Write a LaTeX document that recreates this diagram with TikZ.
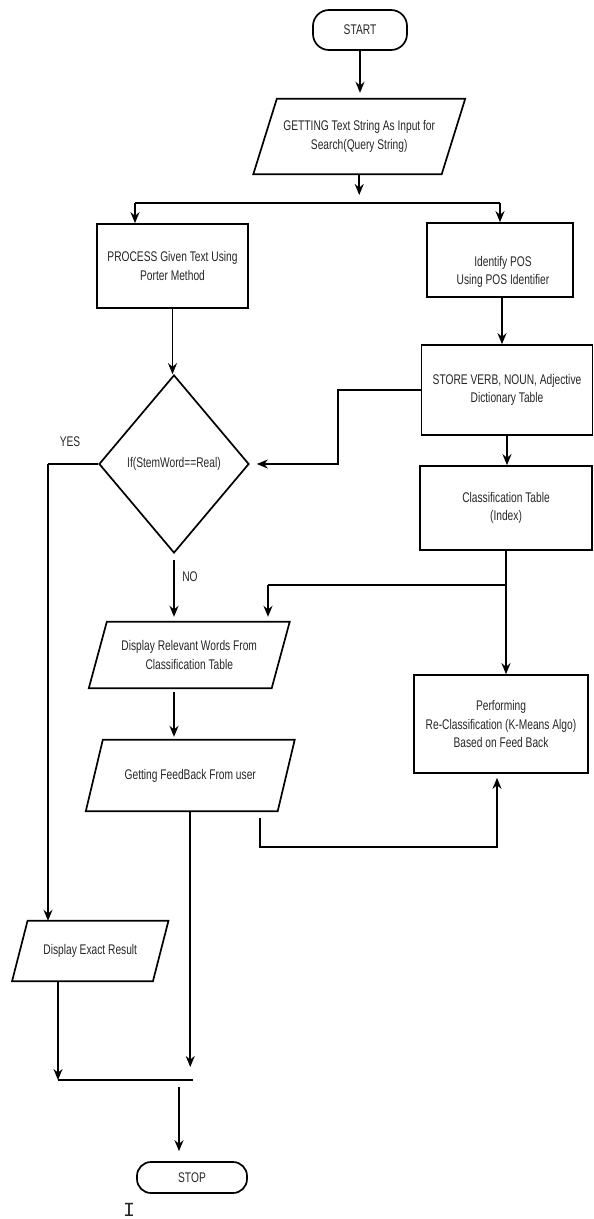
\documentclass[tikz,border=0pt]{standalone}
\usepackage{fontspec}
\setmainfont[FakeStretch=0.73]{Liberation Sans}
\newfontfamily\cursorfont{Liberation Mono}
\usetikzlibrary{arrows.meta,shapes.geometric,calc}
\newcommand\drawpara[2]{\draw[ln] ([xshift=#2pt]#1.north west) -- ([xshift=#2pt]#1.north east) -- ([xshift=-#2pt]#1.south east) -- ([xshift=-#2pt]#1.south west) -- cycle;}
\begin{document}
\begin{tikzpicture}[x=1pt,y=-1pt,
  every node/.style={font=\fontsize{14}{18.5}\selectfont, align=center, inner sep=0pt, text=black!85},
  ln/.style={line width=1.7pt},
  arr/.style={line width=1.7pt, -{Stealth[length=11pt,width=9pt]}},
  proc/.style={draw=black, line width=1.7pt},
  io/.style={},
  term/.style={draw=black, line width=1.7pt, rounded corners=16pt},
  dec/.style={draw=black, shape=diamond, line width=1.7pt, minimum width=150, minimum height=178}]
\useasboundingbox (0,0) rectangle (594,1219);

\node[term, minimum width=94, minimum height=40] (start) at (360,30) {START};
\node[io, minimum width=188, minimum height=75] (get) at (359.25,136.5) {GETTING Text String As Input for\\Search(Query String)};
\drawpara{get}{11.75}
\node[proc, minimum width=151, minimum height=84] (prc) at (172.5,266) {PROCESS Given Text Using\\Porter Method};
\node[proc, minimum width=146, minimum height=74] (pos) at (500,260) {};
\node (posT) at (503,272) {Identify POS\\Using POS Identifier};
\node[proc, minimum width=171, minimum height=90] (store) at (507,390) {STORE VERB, NOUN, Adjective\\Dictionary Table};
\node[proc, minimum width=172, minimum height=84] (cls) at (506,508) {Classification Table\\(Index)};
\node[dec] (dec) at (174,464) {If(StemWord==Real)};
\node[io, minimum width=182.5, minimum height=66] (rel) at (189.25,655) {Display Relevant Words From\\Classification Table};
\drawpara{rel}{9}
\node[proc, minimum width=174, minimum height=98] (perf) at (501,724) {Performing\\Re-Classification (K-Means Algo)\\Based on Feed Back};
\node[io, minimum width=191.5, minimum height=71] (fb) at (190.25,775.5) {Getting FeedBack From user};
\drawpara{fb}{8.5}
\node[io, minimum width=140.5, minimum height=60] (exact) at (90.25,951) {Display Exact Result};
\drawpara{exact}{7.75}
\node[term, minimum width=110, minimum height=31, rounded corners=14pt] (stop) at (192,1177.5) {STOP};
\node[font=\cursorfont\fontsize{20}{20}\selectfont] (cur) at (129,1210) {I};
\node (yes) at (70,442) {YES};
\node (no) at (190,577) {NO};

% connectors
\draw[arr, shorten >=6pt] (start.south) -- (start.south |- get.north);
\coordinate (sL) at (135,203);
\coordinate (sR) at (pos.north |- sL);
\draw[arr, shorten >=8pt] (get.south) -- (get.south |- sL);
\draw[ln] (sL) -- (sR);
\draw[arr] (sL) -- (sL |- prc.north);
\draw[arr] (sR) -- (pos.north);
\draw[arr] ([xshift=2pt]pos.south) -- ([xshift=2pt]pos.south |- store.north);
\coordinate (b1) at (338,390);
\draw[arr, shorten >=7pt] (store.west) -- (b1) |- (dec.east);
\draw[arr] (store.south) -- (store.south |- cls.north);
\draw[arr] (prc.south) -- (prc.south |- dec.north);
\coordinate (yL) at (48,464);
\draw[ln] (dec.west) -- (yL);
\draw[arr] (yL) -- (yL |- exact.north);
\draw[arr, shorten <=6pt, shorten >=5pt] (dec.south) -- (dec.south |- rel.north);
\coordinate (c1) at (cls.south |- 0,585);
\coordinate (c2) at (268,585);
\draw[ln] (cls.south) -- (c1) -- (c2);
\draw[arr, shorten >=5pt] (c2) -- (c2 |- rel.north);
\draw[arr] (c1) -- (c1 |- perf.north);
\draw[arr, shorten <=4pt, shorten >=3pt] (rel.south -| dec.south) -- (fb.north -| dec.south);
\coordinate (mL) at (58,1080);
\coordinate (mR) at (193,1080);
\draw[ln] (mL) -- (mR);
\draw[arr, shorten >=13pt] (fb.south) -- (fb.south |- mR);
\draw[arr] (exact.south -| mL) -- (mL);
\draw[arr, shorten >=4pt] ([xshift=70pt,yshift=-7pt]fb.south) -- ++(0,29) -| ([xshift=-4pt]perf.south);
\coordinate (m3) at (179,1080);
\draw[arr, shorten <=7pt, shorten >=10pt] (m3) -- (m3 |- stop.north);
\end{tikzpicture}
\end{document}
